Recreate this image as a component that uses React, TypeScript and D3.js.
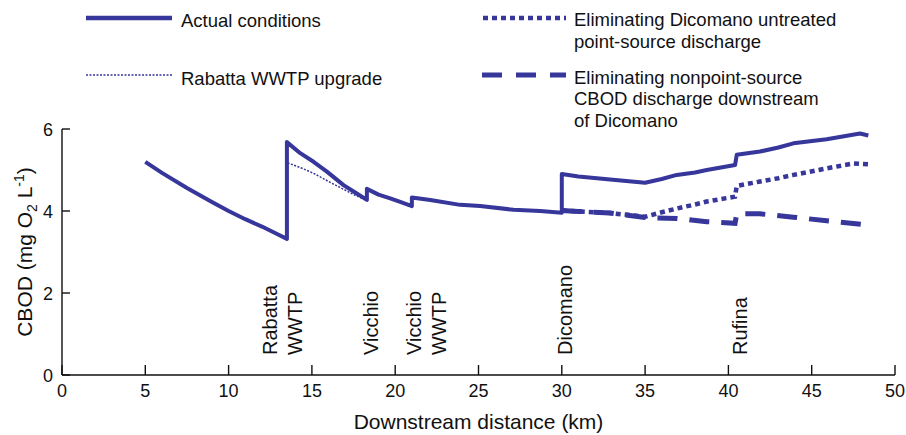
import React from 'react';
import * as d3 from 'd3';

// ---- Data ----
const actualKm = [5, 6, 7.5, 9, 10, 11, 12, 13, 13.5, 13.5, 14.3, 15.1, 15.9, 16.9, 17.6, 18.3, 18.3, 19, 19.7, 20.3, 21, 21, 22.1, 23.9, 25.1, 27.1, 28.7, 30, 30, 31, 32.9, 35, 36, 36.9, 38, 38.7, 40.4, 40.5, 41.9, 43, 43.9, 45.9, 47.9, 48.4];
const actualCbod = [5.2, 4.93, 4.56, 4.22, 4.0, 3.8, 3.62, 3.42, 3.32, 5.68, 5.41, 5.2, 4.96, 4.63, 4.45, 4.27, 4.54, 4.4, 4.31, 4.22, 4.12, 4.33, 4.27, 4.15, 4.12, 4.03, 4.0, 3.96, 4.9, 4.84, 4.77, 4.69, 4.78, 4.88, 4.94, 5.0, 5.12, 5.37, 5.45, 5.55, 5.65, 5.75, 5.89, 5.84];

const rabattaKm = [13.5, 13.5, 14.3, 15.1, 16.0, 16.9, 17.6, 18.3];
const rabattaCbod = [3.32, 5.18, 5.06, 4.92, 4.72, 4.53, 4.38, 4.26];

const dicomanoKm = [30, 31, 32.9, 35, 36, 36.9, 38, 38.7, 40.4, 40.5, 41.9, 43, 43.9, 45.9, 47.5, 48.4];
const dicomanoCbod = [4.01, 3.99, 3.95, 3.86, 3.97, 4.06, 4.16, 4.23, 4.35, 4.61, 4.72, 4.8, 4.88, 5.04, 5.16, 5.14];

const nonpointKm = [30, 31, 32.9, 35, 36.9, 38.7, 40.4, 40.5, 41.9, 43.9, 45.9, 48.4];
const nonpointCbod = [4.01, 3.99, 3.95, 3.84, 3.82, 3.74, 3.7, 3.93, 3.93, 3.85, 3.76, 3.66];

const xTicks = [0, 5, 10, 15, 20, 25, 30, 35, 40, 45, 50];
const yTicks = [0, 2, 4, 6];

const siteLabels = [
  { lines: ['Rabatta', 'WWTP'], km: 13.2 },
  { lines: ['Vicchio'], km: 18.5 },
  { lines: ['Vicchio', 'WWTP'], km: 21.85 },
  { lines: ['Dicomano'], km: 30.15 },
  { lines: ['Rufina'], km: 40.65 },
];

const legendActual = ['Actual conditions'];
const legendRabatta = ['Rabatta WWTP upgrade'];
const legendDicomano = ['Eliminating Dicomano untreated', 'point-source discharge'];
const legendNonpoint = ['Eliminating nonpoint-source', 'CBOD discharge downstream', 'of Dicomano'];

// ---- Styles ----
const W = 906;
const H = 435;
const COLOR = '#36369b';
const FONT = '"Liberation Sans", Arial, Helvetica, sans-serif';

export default function App() {
  const x = d3.scaleLinear().domain([0, 50]).range([62, 895]);
  const y = d3.scaleLinear().domain([0, 6]).range([375, 129]);

  const mk = (ks: number[], vs: number[]) =>
    d3
      .line<number>()
      .x((_, i) => x(ks[i]))
      .y((v) => y(v))(vs) || '';

  const textProps = { fontFamily: FONT, fill: '#111' };

  const legendText = (lines: string[], tx: number, firstBaseline: number) => (
    <text x={tx} y={firstBaseline} fontSize={18.5} {...textProps}>
      {lines.map((l, i) => (
        <tspan key={i} x={tx} dy={i === 0 ? 0 : 21.5}>
          {l}
        </tspan>
      ))}
    </text>
  );

  return (
    <svg width={W} height={H} style={{ position: 'absolute', left: 0, top: 0, background: '#fff' }}>
      <rect width={W} height={H} fill="#fff" />
      {/* Axes */}
      <g stroke="#111" strokeWidth={1.4} fill="none">
        <line x1={x(0)} x2={x(50)} y1={y(0)} y2={y(0)} />
        <line x1={x(0)} x2={x(0)} y1={y(0)} y2={y(6)} />
        {xTicks.map((t) => (
          <line key={'xt' + t} x1={x(t)} x2={x(t)} y1={y(0)} y2={y(0) - 10} />
        ))}
        {yTicks.map((t) => (
          <line key={'yt' + t} x1={x(0)} x2={x(0) + 8} y1={y(t)} y2={y(t)} />
        ))}
      </g>
      {xTicks.map((t) => (
        <text key={'xl' + t} x={x(t)} y={397} fontSize={18} textAnchor="middle" {...textProps}>
          {t}
        </text>
      ))}
      {yTicks.map((t) => (
        <text key={'yl' + t} x={53} y={y(t) + 6.5} fontSize={18} textAnchor="end" {...textProps}>
          {t}
        </text>
      ))}
      <text x={(x(0) + x(50)) / 2} y={429} fontSize={21} textAnchor="middle" {...textProps}>
        Downstream distance (km)
      </text>
      <text transform={`translate(32, ${(y(0) + y(6)) / 2}) rotate(-90)`} fontSize={21} textAnchor="middle" {...textProps}>
        CBOD (mg O
        <tspan fontSize={14} dy={5}>2</tspan>
        <tspan dy={-5}> L</tspan>
        <tspan fontSize={14} dy={-8}>-1</tspan>
        <tspan dy={8}>)</tspan>
      </text>

      {/* Site labels */}
      {siteLabels.map((s, si) => (
        <g key={'s' + si}>
          {s.lines.map((l, i) => {
            const bx = x(s.km) + (i - (s.lines.length - 1) / 2) * 25 + 7.5;
            return (
              <text key={i} transform={`translate(${bx}, 355) rotate(-90)`} fontSize={20} {...textProps}>
                {l}
              </text>
            );
          })}
        </g>
      ))}

      {/* Series */}
      <path d={mk(rabattaKm, rabattaCbod)} fill="none" stroke={COLOR} strokeWidth={1.5} strokeDasharray="2,1.5" />
      <path d={mk(actualKm, actualCbod)} fill="none" stroke={COLOR} strokeWidth={4} strokeLinejoin="round" />
      <path d={mk(nonpointKm, nonpointCbod)} fill="none" stroke={COLOR} strokeWidth={5} strokeDasharray="20,12" />
      <path d={mk(dicomanoKm, dicomanoCbod)} fill="none" stroke={COLOR} strokeWidth={4.5} strokeDasharray="5,4" />

      {/* Legend */}
      <line x1={86} x2={172} y1={18} y2={18} stroke={COLOR} strokeWidth={4.5} />
      {legendText(legendActual, 181, 27)}
      <line x1={86} x2={172} y1={75} y2={75} stroke={COLOR} strokeWidth={1.5} strokeDasharray="2,1.5" />
      {legendText(legendRabatta, 181, 85)}
      <line x1={483} x2={566} y1={18} y2={18} stroke={COLOR} strokeWidth={4.5} strokeDasharray="5,4" />
      {legendText(legendDicomano, 574, 26)}
      <line x1={482} x2={566} y1={75} y2={75} stroke={COLOR} strokeWidth={5} strokeDasharray="20,14" />
      {legendText(legendNonpoint, 574, 83.5)}
    </svg>
  );
}
